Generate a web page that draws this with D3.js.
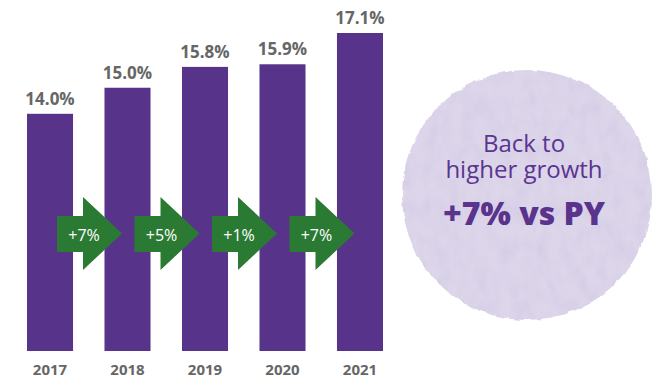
<!DOCTYPE html>
<html>
<head>
<meta charset="utf-8">
<script src="https://cdn.jsdelivr.net/npm/d3@7/dist/d3.min.js"></script>
<style>
  body { margin: 0; background: #fff; }
  svg { display: block; }
</style>
</head>
<body>
<svg width="652" height="378"></svg>
<script>
(function () {
  'use strict';

  var years = ['2017', '2018', '2019', '2020', '2021'];
  var shares = [14.0, 15.0, 15.8, 15.9, 17.1];
  var growth = ['+7%', '+5%', '+1%', '+7%'];
  var headline = ['Back to', 'higher growth'];
  var callout = '+7% vs PY';

  var svg = d3.select('svg');
  var font = '"Open Sans", "DejaVu Sans", sans-serif';

  var x = d3.scaleBand().domain(years).range([27, 383]).paddingInner(0.406).paddingOuter(0);
  var y = d3.scaleLinear().domain([4.9, 17.1]).range([351, 33]);

  // watercolour blob filter
  var defs = svg.append('defs');
  var f = defs.append('filter').attr('id', 'wash')
    .attr('x', '-10%').attr('y', '-10%').attr('width', '120%').attr('height', '120%');
  f.append('feTurbulence').attr('type', 'fractalNoise').attr('baseFrequency', 0.09)
    .attr('numOctaves', 3).attr('seed', 4).attr('result', 'edge');
  f.append('feDisplacementMap').attr('in', 'SourceGraphic').attr('in2', 'edge')
    .attr('scale', 4).attr('xChannelSelector', 'R').attr('yChannelSelector', 'G').attr('result', 'blob');
  f.append('feTurbulence').attr('type', 'fractalNoise').attr('baseFrequency', '0.08 0.05')
    .attr('numOctaves', 4).attr('seed', 9).attr('result', 'grain');
  f.append('feColorMatrix').attr('in', 'grain').attr('type', 'matrix')
    .attr('values', '0 0 0 0 0.55  0 0 0 0 0.48  0 0 0 0 0.72  0 0 0 0.6 -0.22')
    .attr('result', 'tint');
  f.append('feComposite').attr('in', 'tint').attr('in2', 'blob').attr('operator', 'in').attr('result', 'spots');
  var m = f.append('feMerge');
  m.append('feMergeNode').attr('in', 'blob');
  m.append('feMergeNode').attr('in', 'spots');

  svg.append('circle')
    .attr('cx', 527).attr('cy', 195).attr('r', 125)
    .attr('fill', '#ddd6ea')
    .attr('filter', 'url(#wash)');

  svg.append('g').selectAll('text').data(headline).enter().append('text')
    .attr('x', 524)
    .attr('y', function (d, i) { return 152 + i * 26; })
    .attr('text-anchor', 'middle')
    .attr('font-family', font)
    .attr('font-size', 24)
    .attr('font-weight', 400)
    .attr('fill', '#5a3590')
    .text(function (d) { return d; });

  svg.append('text')
    .attr('x', 524).attr('y', 225)
    .attr('text-anchor', 'middle')
    .attr('font-family', font)
    .attr('font-size', 32)
    .attr('font-weight', 800)
    .attr('fill', '#59338c')
    .text(callout);

  // bars
  svg.append('g').selectAll('rect').data(shares).enter().append('rect')
    .attr('x', function (d, i) { return x(years[i]); })
    .attr('y', function (d) { return y(d); })
    .attr('width', x.bandwidth())
    .attr('height', function (d) { return y.range()[0] - y(d); })
    .attr('fill', '#573489');

  svg.append('g').selectAll('text').data(shares).enter().append('text')
    .attr('x', function (d, i) { return x(years[i]) + x.bandwidth() / 2; })
    .attr('y', function (d) { return y(d) - 9; })
    .attr('text-anchor', 'middle')
    .attr('font-family', font)
    .attr('font-size', 17)
    .attr('font-weight', 700)
    .attr('fill', '#666666')
    .text(function (d) { return d.toFixed(1) + '%'; });

  svg.append('g').selectAll('text').data(years).enter().append('text')
    .attr('x', function (d) { return x(d) + x.bandwidth() / 2; })
    .attr('y', 375)
    .attr('text-anchor', 'middle')
    .attr('font-family', font)
    .attr('font-size', 15)
    .attr('font-weight', 700)
    .attr('fill', '#666666')
    .text(function (d) { return d; });

  // growth arrows between bars
  function arrow(x0) {
    var p = d3.path();
    p.moveTo(x0, 216);
    p.lineTo(x0 + 26, 216);
    p.lineTo(x0 + 26, 197);
    p.lineTo(x0 + 65, 233.5);
    p.lineTo(x0 + 26, 270);
    p.lineTo(x0 + 26, 252);
    p.lineTo(x0, 252);
    p.closePath();
    return p.toString();
  }

  var arrows = svg.append('g').selectAll('g').data(growth).enter().append('g');
  arrows.append('path')
    .attr('d', function (d, i) { return arrow(x(years[i]) + x.bandwidth() / 2 + 7); })
    .attr('fill', '#2b7a34');
  arrows.append('text')
    .attr('x', function (d, i) { return x(years[i]) + x.bandwidth() / 2 + 34; })
    .attr('y', 241)
    .attr('text-anchor', 'middle')
    .attr('font-family', font)
    .attr('font-size', 16)
    .attr('fill', '#ffffff')
    .text(function (d) { return d; });
}());
</script>
</body>
</html>
